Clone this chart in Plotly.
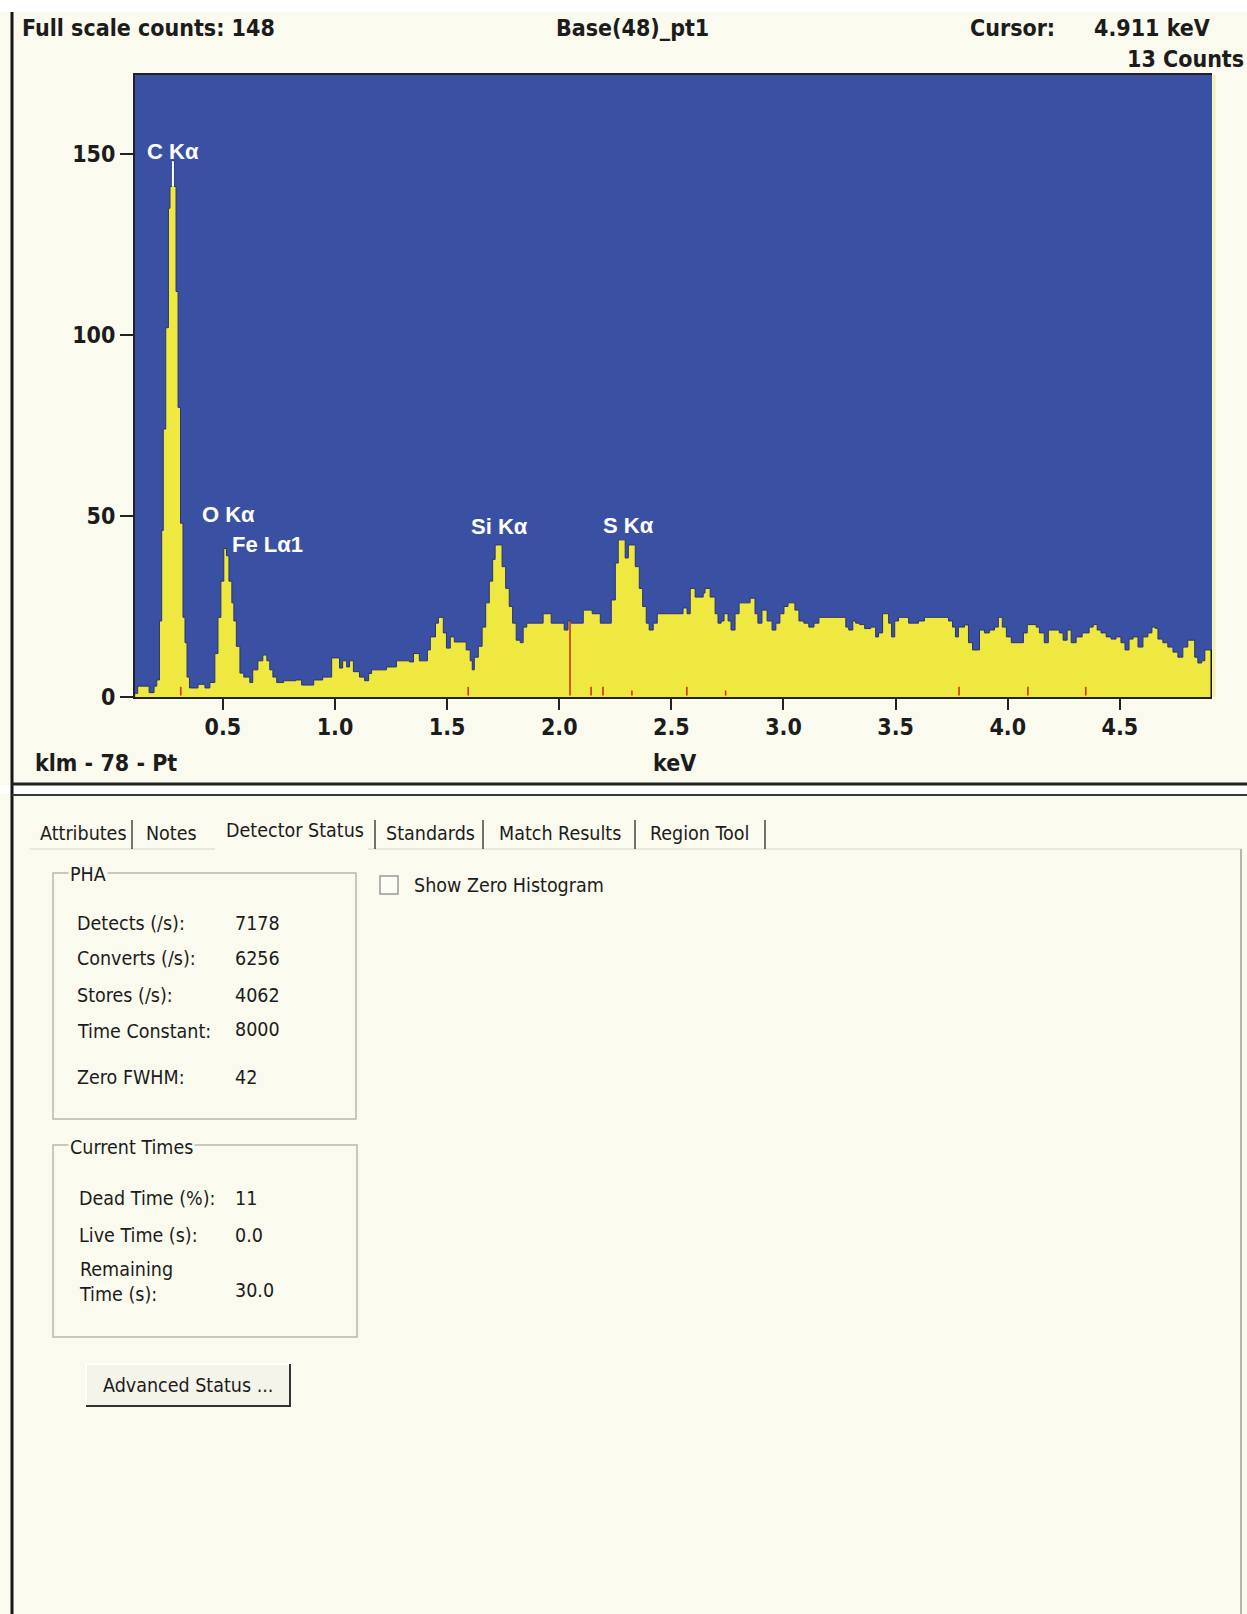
import plotly.graph_objects as go

W, H = 1247, 1614

# ---------------- data ----------------
energy_kev = [
    0.109, 0.120, 0.171, 0.193, 0.205, 0.217, 0.227, 0.234, 0.245, 0.257,
    0.264, 0.273, 0.282, 0.291, 0.300, 0.311, 0.322, 0.331, 0.340, 0.351,
    0.389, 0.420, 0.442, 0.464, 0.478, 0.491, 0.504, 0.516, 0.527, 0.540,
    0.549, 0.560, 0.576, 0.593, 0.620, 0.633, 0.656, 0.678, 0.696, 0.709,
    0.723, 0.740, 0.771, 0.825, 0.851, 0.905, 0.945, 0.985, 1.020, 1.034,
    1.052, 1.065, 1.082, 1.109, 1.132, 1.150, 1.163, 1.229, 1.274, 1.332,
    1.350, 1.376, 1.412, 1.425, 1.448, 1.461, 1.483, 1.497, 1.514, 1.532,
    1.585, 1.603, 1.612, 1.621, 1.639, 1.656, 1.672, 1.688, 1.703, 1.714,
    1.745, 1.761, 1.777, 1.792, 1.808, 1.826, 1.839, 1.855, 1.928, 1.964,
    2.022, 2.039, 2.053, 2.107, 2.147, 2.183, 2.232, 2.250, 2.263, 2.294,
    2.308, 2.339, 2.357, 2.372, 2.388, 2.401, 2.419, 2.437, 2.552, 2.570,
    2.584, 2.606, 2.642, 2.650, 2.673, 2.695, 2.708, 2.722, 2.735, 2.753,
    2.766, 2.784, 2.802, 2.851, 2.873, 2.886, 2.904, 2.927, 2.949, 2.966,
    2.984, 3.002, 3.020, 3.051, 3.069, 3.091, 3.113, 3.136, 3.158, 3.278,
    3.291, 3.309, 3.322, 3.340, 3.362, 3.389, 3.411, 3.424, 3.442, 3.469,
    3.482, 3.496, 3.513, 3.558, 3.602, 3.629, 3.736, 3.754, 3.767, 3.780,
    3.807, 3.825, 3.843, 3.874, 3.896, 3.918, 3.941, 3.958, 3.976, 3.994,
    4.016, 4.070, 4.087, 4.127, 4.141, 4.163, 4.181, 4.230, 4.247, 4.265,
    4.283, 4.305, 4.332, 4.363, 4.381, 4.399, 4.416, 4.439, 4.461, 4.483,
    4.505, 4.523, 4.541, 4.559, 4.581, 4.603, 4.625, 4.643, 4.657, 4.670,
    4.692, 4.714, 4.737, 4.759, 4.781, 4.803, 4.834, 4.848, 4.865, 4.879,
    4.911,
]
counts = [
    1, 3, 1.2, 3, 4.7, 21, 46, 74, 102, 135,
    141, 148, 141, 112, 80, 48, 22, 15, 5.5, 2.5,
    3.5, 2.5, 4, 12, 22, 32, 41, 39, 32, 26,
    21, 14, 6.6, 5.5, 4, 7.5, 10, 11.6, 10, 7.5,
    5.5, 4, 4.5, 4.7, 3.3, 4.7, 5.5, 10.8, 8, 10,
    8.3, 10, 7, 5.5, 4.5, 6.5, 7.5, 8.3, 10, 9.7,
    12, 10, 13, 16.6, 20.4, 22, 17.7, 13.5, 16.6, 15.2,
    13, 10, 7.5, 11, 14, 19.3, 26, 32, 38, 42,
    36, 30, 25, 20.4, 15.7, 15, 19.3, 20.4, 23, 20.4,
    18.5, 21, 20.4, 24, 23, 20.4, 26.8, 37, 43.4, 38.4,
    42, 36, 30, 25, 20.4, 18.5, 20.4, 23, 24.6, 23,
    30, 27.6, 28.7, 30, 27.6, 23, 20.4, 21, 23, 21,
    18.5, 23, 26, 27.3, 23, 20.4, 24, 21, 18.5, 20.4,
    23, 25, 26, 24, 21, 20.4, 19.3, 20.4, 22, 19.3,
    18.5, 21, 20.4, 20, 18.9, 19.3, 16.6, 17.7, 23, 20.4,
    16.6, 21, 22, 20.4, 21, 22, 21, 19.3, 16.6, 19.3,
    19.9, 15, 13, 18.5, 17.7, 18.5, 19.3, 22, 19.3, 16.6,
    15, 17.7, 20, 19.3, 17.7, 15, 18.5, 17.7, 15.7, 18.5,
    15, 16.6, 17.7, 19.3, 20, 18.5, 17.7, 16.6, 16, 16.6,
    15, 13, 16, 16.6, 13.8, 16.6, 17.7, 19.3, 19, 16,
    15, 13.8, 12.4, 11, 13.8, 15.7, 11, 9.4, 10, 13,
    13,
]

peak_labels = ["C K\u03b1", "O K\u03b1", "Fe L\u03b11", "Si K\u03b1", "S K\u03b1"]
peak_label_kev = [0.153, 0.398, 0.531, 1.599, 2.186]
peak_label_counts = [150.8, 50.3, 42.0, 47.0, 47.5]

c_marker_kev = 0.277
c_marker_counts = [141, 148]

pt_marker_kev = [0.312, 1.594, 2.048, 2.142, 2.195, 2.324, 2.569, 2.742, 3.783, 4.090, 4.348]
pt_marker_top = [2.8, 2.8, 21.0, 2.8, 2.8, 1.8, 2.8, 1.8, 2.8, 2.8, 2.8]

x_tick_vals = [0.5, 1.0, 1.5, 2.0, 2.5, 3.0, 3.5, 4.0, 4.5]
x_tick_text = ["0.5", "1.0", "1.5", "2.0", "2.5", "3.0", "3.5", "4.0", "4.5"]
y_tick_vals = [0, 50, 100, 150]
x_range = [0.108, 4.911]
y_range = [0, 171.8]

full_scale_counts = 148
spectrum_name = "Base(48)_pt1"
cursor_kev = 4.911
cursor_counts = 13
klm_text = "klm - 78 - Pt"
x_title = "keV"

tab_labels = ["Attributes", "Notes", "Detector Status", "Standards", "Match Results", "Region Tool"]
pha_labels = ["Detects (/s):", "Converts (/s):", "Stores (/s):", "Time Constant:", "Zero FWHM:"]
pha_values = ["7178", "6256", "4062", "8000", "42"]
time_labels = ["Dead Time (%):", "Live Time (s):", "Remaining<br>Time (s):"]
time_values = ["11", "0.0", "30.0"]

# ---------------- styling ----------------
FONT = "Liberation Sans Narrow, Arial Narrow, DejaVu Sans Condensed, Liberation Sans, sans-serif"
FONT_W = "Liberation Sans, Arial, sans-serif"
TXT = "#1c1c1c"
CREAM = "#FAFAEE"
BLUE = "#3A51A3"
YELLOW = "#EEE840"
HDR = 23
UI = 19.5


def X(px):
    return px / W


def Y(py):
    return 1 - py / H


fig = go.Figure()

# spectrum (step histogram)
fig.add_trace(go.Scatter(
    x=energy_kev, y=counts, mode="lines", line_shape="hv",
    fill="tozeroy", fillcolor=YELLOW,
    line=dict(color="#2a3470", width=1), hoverinfo="skip"))

# C K-alpha white marker
fig.add_trace(go.Scatter(
    x=[c_marker_kev, c_marker_kev], y=c_marker_counts, mode="lines",
    line=dict(color="white", width=2), hoverinfo="skip"))

# Pt KLM markers (red)
mx, my = [], []
for k, t in zip(pt_marker_kev, pt_marker_top):
    mx += [k, k, None]
    my += [0.4, t, None]
fig.add_trace(go.Scatter(x=mx, y=my, mode="lines",
                         line=dict(color="#D2321E", width=1.6), hoverinfo="skip"))

# cursor
fig.add_trace(go.Scatter(x=[cursor_kev, cursor_kev], y=[0, cursor_counts], mode="lines",
                         line=dict(color="#111111", width=3), hoverinfo="skip"))

annotations = []
for lab, k, c in zip(peak_labels, peak_label_kev, peak_label_counts):
    annotations.append(dict(x=k, y=c, xref="x", yref="y", text=lab, showarrow=False,
                            xanchor="left", yanchor="middle",
                            font=dict(family=FONT_W, size=22, color="white", weight="bold")))


def txt(x, y, s, size=UI, bold=False, anchor="left", color=TXT, bg=None, family=FONT):
    d = dict(x=X(x), y=Y(y), xref="paper", yref="paper", text=s, showarrow=False,
             xanchor=anchor, yanchor="middle", align=anchor if anchor != "center" else "center",
             font=dict(family=family, size=size, color=color,
                       weight="bold" if bold else "normal"))
    if bg:
        d["bgcolor"] = bg
        d["borderpad"] = 1
    annotations.append(d)


# header
txt(20, 28, f"Full scale counts: {full_scale_counts}", HDR, True)
txt(632, 28, spectrum_name, HDR, True, "center")
txt(968, 28, "Cursor:", HDR, True)
txt(1092, 28, f"{cursor_kev:.3f} keV", HDR, True)
txt(1246, 59, f"{cursor_counts} Counts", HDR, True, "right")
# footer of spectrum panel
txt(33, 763, klm_text, HDR, True)
txt(674, 763, x_title, HDR, True, "center")

# tabs
tab_x = [38, 144, 224, 384, 497, 648]
tab_y = [833, 833, 830, 833, 833, 833]
for s, x, y in zip(tab_labels, tab_x, tab_y):
    txt(x, y, s)

# PHA group
txt(68, 875, "PHA", bg=CREAM)
pha_y = [923, 958, 995, 1031, 1077]
for lab, val, y in zip(pha_labels, pha_values, pha_y):
    txt(75, y, lab)
    txt(233, y - (2 if lab.startswith("Time") else 0), val)

txt(412, 885, "Show Zero Histogram")

# Current times group
txt(68, 1147, "Current Times", bg=CREAM)
time_y = [1198, 1235, 1282]
val_y = [1198, 1235, 1290]
for lab, val, y, vy in zip(time_labels, time_values, time_y, val_y):
    txt(77, y, lab)
    txt(233, vy, val)

txt(188, 1385, "Advanced Status ...", anchor="center")

shapes = []


def rect(x0, y0, x1, y1, fill=None, line=None, lw=1, layer="above"):
    shapes.append(dict(type="rect", xref="paper", yref="paper",
                       x0=X(x0), x1=X(x1), y0=Y(y1), y1=Y(y0),
                       fillcolor=fill if fill else "rgba(0,0,0,0)",
                       line=dict(color=line if line else "rgba(0,0,0,0)", width=lw if line else 0),
                       layer=layer))


def seg(x0, y0, x1, y1, color, lw):
    shapes.append(dict(type="line", xref="paper", yref="paper",
                       x0=X(x0), x1=X(x1), y0=Y(y0), y1=Y(y1),
                       line=dict(color=color, width=lw), layer="above"))


rect(0, 0, W, 12, fill="white", layer="below")
rect(0, 785, W, 794, fill="white", layer="below")
seg(12, 12, 12, H, "#161616", 3)
seg(12, 784, W, 784, "#222222", 3)
seg(12, 795, W, 795, "#3a3a3a", 2)
seg(30, 849, 215, 849, "#d6d6cc", 1)
seg(368, 849, 1241, 849, "#d6d6cc", 1)
seg(1241, 849, 1241, H, "#b6b6ae", 2)
for sx in [132, 375, 483, 635, 765]:
    seg(sx, 820, sx, 849, "#444444", 1.5)
seg(1214, 75, 1214, 697, "#F3F0B0", 3)
rect(53, 873, 356, 1119, line="#b8b8b0", lw=1.5)
rect(53, 1145, 357, 1337, line="#b8b8b0", lw=1.5)
rect(380, 876, 398, 894, fill="#FDFDF8", line="#9a9a94", lw=1.5)
rect(86, 1364, 290, 1406, fill="#F4F4EA")
seg(86, 1364, 290, 1364, "#ffffff", 2)
seg(86, 1364, 86, 1406, "#ffffff", 2)
seg(290, 1364, 290, 1407, "#333333", 2)
seg(86, 1406, 290, 1406, "#333333", 2)

fig.update_layout(
    template="none",
    width=W, height=H,
    margin=dict(l=0, r=0, t=0, b=0, pad=0, autoexpand=False),
    paper_bgcolor=CREAM,
    plot_bgcolor=BLUE,
    showlegend=False,
    annotations=annotations,
    shapes=shapes,
    xaxis=dict(domain=[X(135), X(1212)], range=x_range, automargin=False,
               tickvals=x_tick_vals, ticktext=x_tick_text,
               ticks="outside", ticklen=11, tickwidth=2, tickcolor="#222",
               showline=True, linecolor="#222", linewidth=2, mirror=True,
               showgrid=False, zeroline=False, ticklabelstandoff=-3,
               tickfont=dict(family=FONT, size=HDR, color=TXT, weight="bold")),
    yaxis=dict(domain=[Y(697), Y(75)], range=y_range, automargin=False,
               tickvals=y_tick_vals,
               ticks="outside", ticklen=13, tickwidth=2, tickcolor="#222",
               showline=True, linecolor="#222", linewidth=2,
               showgrid=False, zeroline=False, ticklabelstandoff=0,
               tickfont=dict(family=FONT, size=HDR, color=TXT, weight="bold")),
)

post = (
    "document.documentElement.style.margin='0';"
    "document.body.style.margin='0';"
    "document.documentElement.style.overflow='hidden';"
    "document.body.style.overflow='hidden';"
    "var gd=document.getElementById('{plot_id}');"
    "gd.style.position='fixed';gd.style.top='0px';gd.style.left='0px';"
)
fig.write_html("out.html", config={"displayModeBar": False}, post_script=post)
